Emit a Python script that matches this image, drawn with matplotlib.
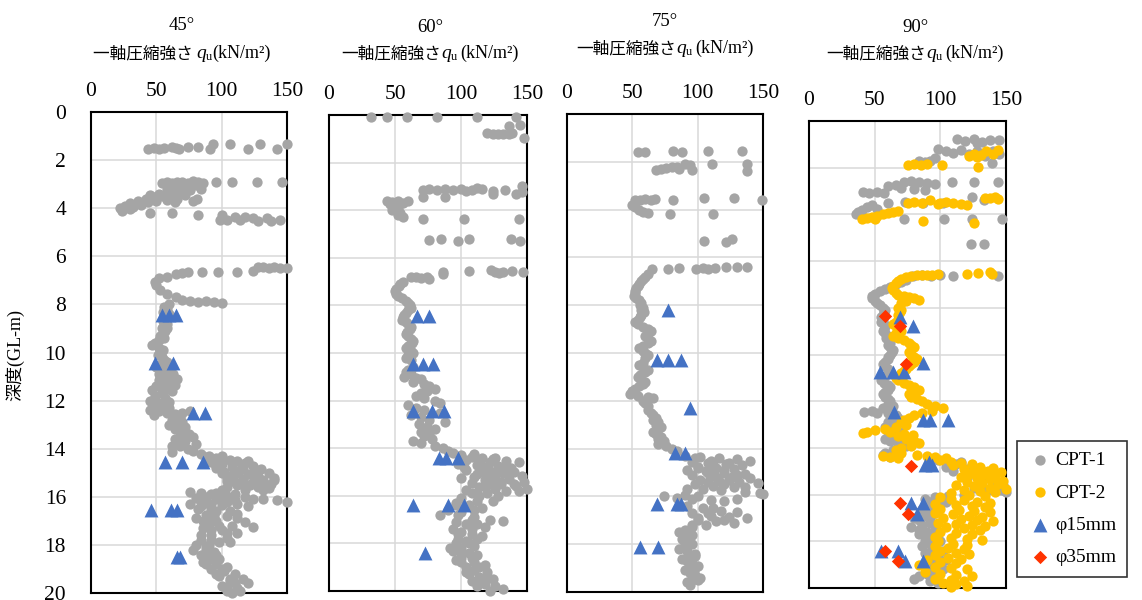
import numpy as np
import matplotlib
matplotlib.use("Agg")
import matplotlib.pyplot as plt

plt.rcParams['font.family'] = ['Liberation Serif', 'Noto Sans CJK JP']

# ---- data: (depth GL-m, qu kN/m2) ----
angles = ["45°", "60°", "75°", "90°"]
qu_label_jp = ["一軸圧縮強さ ", "一軸圧縮強さ", "一軸圧縮強さ", "一軸圧縮強さ"]
qu_sub = ["u", "u ", "u ", "u "]
qu_unit = "(kN/m²)"
x_ticks = [0, 50, 100, 150]
depth_ticks = [0, 2, 4, 6, 8, 10, 12, 14, 16, 18, 20]
series_names = ["CPT-1", "CPT-2", "φ15mm", "φ35mm"]

cpt1_45 = [
    (1.55, 44), (1.5, 48), (1.55, 52), (1.5, 56), (1.45, 62), (1.5, 65), (1.55, 67), (1.45, 74), (1.45, 82),
    (1.35, 93), (1.55, 91), (1.35, 106), (1.55, 120), (1.35, 129), (1.55, 142), (1.35, 150),
    (2.95, 54), (2.9, 58), (2.95, 62), (2.9, 66), (2.9, 70), (2.95, 74), (2.85, 78), (2.9, 82), (2.95, 86),
    (2.9, 96), (2.9, 108), (2.9, 127), (2.9, 146),
    (3.05, 80), (3.1, 75), (3.1, 70), (3.15, 64), (3.2, 58), (3.2, 84), (3.25, 76), (3.3, 68), (3.35, 60),
    (3.4, 52), (3.45, 45), (3.45, 72), (3.5, 62), (3.5, 54), (3.55, 48), (3.6, 42), (3.6, 66), (3.65, 58),
    (3.7, 50), (3.7, 36), (3.75, 44), (3.8, 30), (3.85, 38), (3.9, 26), (3.95, 32), (4.0, 22), (4.05, 30),
    (4.1, 24), (3.7, 78), (3.6, 81), (3.55, 60), (3.75, 64), (4.2, 45), (4.2, 62), (4.3, 82),
    (4.3, 100), (4.5, 99), (4.5, 104), (4.35, 110), (4.5, 114), (4.35, 118), (4.4, 124), (4.55, 128),
    (4.4, 135), (4.55, 138), (4.5, 145),
    (6.65, 85), (6.65, 97), (6.65, 112), (6.6, 124), (6.45, 128), (6.45, 132), (6.5, 136), (6.45, 140),
    (6.5, 145), (6.5, 150),
    (6.65, 74), (6.7, 70), (6.75, 65), (6.85, 58), (6.9, 52), (7.05, 49), (7.2, 50), (7.4, 53), (7.55, 58),
    (7.7, 65), (7.8, 70), (7.85, 76), (7.9, 82), (7.85, 88), (7.9, 94), (7.95, 100),
    (8.1, 56), (8.2, 58), (8.3, 55), (8.4, 60), (8.6, 57), (8.7, 55), (8.8, 58), (8.9, 56), (9.0, 54),
    (9.1, 57), (9.2, 55), (9.3, 53), (9.4, 56), (9.5, 52), (9.6, 49), (9.7, 47), (9.8, 52), (9.9, 55),
    (10.0, 53), (10.1, 51), (10.2, 54), (10.3, 56), (10.5, 53), (10.6, 56),
    (10.7, 55), (10.8, 60), (10.9, 63), (11.0, 58), (11.1, 66), (11.15, 52), (11.2, 61), (11.3, 55),
    (11.35, 64), (11.4, 50), (11.5, 58), (11.55, 47), (11.6, 62), (11.7, 54), (11.8, 49), (11.9, 57),
    (12.0, 45), (12.05, 60), (12.1, 52),
    (12.4, 45), (12.45, 52), (12.5, 58), (12.55, 64), (12.5, 70), (12.45, 76), (12.6, 48),
    (12.7, 68), (12.8, 62), (12.9, 70), (13.0, 66), (13.1, 72), (13.2, 64), (13.3, 68), (13.4, 75),
    (13.5, 70), (13.6, 64), (13.7, 72), (13.8, 80), (13.9, 68), (14.0, 74), (14.1, 78),
    (14.15, 62), (14.2, 84), (14.3, 90), (14.3, 100),
    (14.4, 96), (14.45, 106), (14.5, 112), (14.55, 92), (14.6, 118), (14.65, 100), (14.7, 124), (14.75, 108),
    (14.8, 96), (14.85, 130), (14.9, 114), (14.95, 102), (15.0, 136), (15.05, 120), (15.1, 108), (15.15, 128),
    (15.2, 140), (15.25, 116), (15.3, 132), (15.35, 104), (15.4, 124), (15.45, 138), (15.5, 112), (15.55, 130),
    (15.6, 118), (15.65, 136), (15.7, 100),
    (15.8, 76), (15.85, 84), (15.9, 92), (15.95, 104), (16.0, 118), (16.05, 80), (16.1, 96), (16.15, 110),
    (16.1, 132), (16.15, 142), (16.2, 150), (16.25, 88), (16.3, 76), (16.35, 100), (16.4, 120),
    (16.5, 82), (16.6, 96), (16.7, 112), (16.75, 88), (16.8, 104), (16.9, 80), (17.0, 96), (17.05, 118),
    (17.1, 90), (17.2, 108), (17.25, 124), (17.3, 86), (17.4, 100), (17.5, 112), (17.6, 92), (17.7, 104),
    (17.8, 84), (17.9, 98),
    (18.0, 80), (18.1, 88), (18.2, 78), (18.3, 94), (18.4, 84), (18.5, 90), (18.6, 98), (18.7, 86), (18.8, 96),
    (18.9, 104), (19.0, 92), (19.1, 102), (19.2, 110), (19.3, 98), (19.4, 116), (19.5, 106), (19.6, 120),
    (19.7, 100), (19.8, 112), (19.9, 104), (20.0, 108),
    (8.0, 60), (8.5, 58), (9.0, 58), (10.4, 58), (10.6, 50), (10.9, 52), (11.3, 62), (12.2, 54), (12.3, 60),
    (12.3, 48), (13.0, 60), (13.5, 78), (13.9, 62),
    (14.35, 88), (14.4, 100), (14.5, 120), (14.6, 108), (14.7, 96), (14.8, 116), (14.9, 126), (15.0, 100),
    (15.0, 112), (15.1, 124), (15.2, 104), (15.2, 128), (15.3, 116), (15.3, 140), (15.4, 110), (15.5, 122),
    (15.5, 136), (15.6, 104), (15.6, 128), (15.7, 118), (15.7, 132),
    (15.85, 96), (15.9, 110), (16.0, 88), (16.0, 100), (16.1, 124), (16.2, 84), (16.2, 104), (16.3, 112),
    (16.3, 92), (16.4, 84),
    (16.5, 92), (16.6, 106), (16.8, 94), (16.9, 112), (17.0, 86), (17.2, 98), (17.4, 92), (17.5, 104),
    (17.6, 84), (17.8, 92), (17.9, 106), (18.0, 90), (18.2, 88), (18.4, 96), (18.6, 90), (18.8, 88),
    (19.0, 100), (19.2, 96), (19.4, 106), (19.6, 110), (19.8, 104), (19.9, 114),
]
tri_45 = [(8.45, 54), (8.45, 60), (8.45, 65), (10.45, 49), (10.45, 63), (12.5, 78), (12.5, 87),
          (14.55, 57), (14.55, 70), (14.55, 86), (16.55, 46), (16.55, 61), (16.55, 66), (18.5, 66), (18.5, 68)]

cpt1_60 = [
    (0.1, 32), (0.1, 44), (0.1, 59), (0.1, 82), (0.1, 112), (0.1, 142), (0.45, 136), (0.4, 145),
    (0.75, 120), (0.8, 124), (0.8, 128), (0.8, 132), (0.8, 136), (0.75, 139), (0.95, 148),
    (3.0, 146), (3.15, 71), (3.1, 76), (3.15, 82), (3.1, 88), (3.15, 94), (3.1, 100), (3.2, 104),
    (3.15, 108), (3.05, 112), (3.1, 116), (3.2, 124), (3.15, 133), (3.3, 142), (3.25, 146), (3.3, 124),
    (3.45, 71), (3.45, 88),
    (3.6, 44), (3.65, 48), (3.6, 52), (3.7, 56), (3.6, 60), (3.75, 46), (3.8, 50), (3.9, 52), (4.0, 48),
    (4.1, 54), (4.2, 52), (4.3, 56),
    (4.35, 71), (4.35, 102), (4.35, 144),
    (5.27, 76), (5.2, 85), (5.3, 98), (5.2, 106), (5.2, 138), (5.3, 145),
    (6.6, 86), (6.55, 106), (6.5, 123), (6.6, 126), (6.65, 129), (6.6, 132), (6.55, 139), (6.6, 147), (6.7, 86),
    (6.8, 62), (6.8, 66), (6.85, 70), (6.8, 74), (6.9, 76),
    (7.0, 56), (7.1, 54), (7.2, 53), (7.3, 51), (7.4, 50), (7.5, 51), (7.6, 52), (7.7, 55), (7.8, 58),
    (7.9, 60), (8.0, 61), (8.1, 62), (8.2, 60), (8.3, 58), (8.4, 57), (8.5, 56), (8.6, 55), (8.7, 58),
    (8.8, 60), (8.9, 62), (9.0, 61), (9.1, 59), (9.2, 58), (9.3, 60), (9.4, 62), (9.5, 64), (9.6, 63),
    (9.7, 60),
    (9.8, 58), (9.9, 62), (10.0, 64), (10.1, 60), (10.2, 58), (10.3, 62), (10.6, 64), (10.7, 60), (10.8, 58),
    (10.9, 62), (11.0, 57), (11.05, 66), (11.1, 70), (11.2, 64), (11.3, 72), (11.4, 76), (11.5, 80),
    (11.6, 74), (11.7, 70), (11.8, 66), (11.9, 72), (12.0, 80), (12.1, 84),
    (12.2, 60), (12.3, 66), (12.4, 72), (12.5, 84), (12.6, 62), (12.7, 70), (12.8, 76), (12.9, 88),
    (13.0, 68), (13.1, 74), (13.2, 80), (13.3, 70), (13.4, 76), (13.5, 72), (13.6, 78), (13.7, 64),
    (13.8, 70), (13.9, 80), (14.0, 86), (14.1, 90),
    (14.2, 94), (14.3, 100), (14.35, 108), (14.4, 116), (14.45, 124), (14.5, 104), (14.55, 134), (14.6, 144),
    (14.65, 98), (14.7, 112), (14.75, 128), (14.8, 118), (14.85, 138), (14.9, 104), (14.95, 122), (15.0, 140),
    (15.05, 132), (15.1, 112), (15.15, 146), (15.2, 126), (15.25, 100), (15.3, 136), (15.35, 118),
    (15.4, 148), (15.45, 108), (15.5, 130), (15.55, 124), (15.6, 142), (15.65, 114), (15.7, 150),
    (15.75, 104), (15.8, 134), (15.9, 120), (16.0, 128),
    (16.1, 100), (16.2, 112), (16.3, 96), (16.4, 106), (16.5, 116), (16.6, 90), (16.7, 100), (16.8, 84),
    (16.9, 110), (17.0, 122), (17.05, 132), (17.1, 96), (17.2, 104), (17.3, 118), (17.4, 94),
    (17.5, 100), (17.6, 108), (17.7, 116), (17.8, 98), (17.9, 104), (18.0, 96), (18.1, 110), (18.2, 100),
    (18.3, 94), (18.4, 106), (18.5, 112), (18.6, 100), (18.7, 96), (18.8, 110), (18.9, 118), (19.0, 104),
    (19.1, 110), (19.2, 120), (19.3, 106), (19.4, 114), (19.5, 124), (19.6, 108), (19.7, 118), (19.8, 126),
    (19.9, 132), (20.0, 122),
    (14.25, 110), (14.4, 126), (14.5, 114), (14.6, 122), (14.7, 134), (14.8, 102), (14.9, 128), (15.0, 116),
    (15.1, 136), (15.2, 110), (15.3, 120), (15.4, 130), (15.5, 140), (15.6, 118), (15.7, 126), (15.8, 144),
    (15.9, 108), (16.0, 114),
    (16.2, 124), (16.4, 96), (16.6, 110), (16.8, 98), (17.0, 108), (17.2, 112), (17.4, 108), (17.6, 98),
    (17.8, 112), (18.0, 106), (18.2, 92), (18.4, 100), (18.6, 108), (18.8, 100), (19.0, 114), (19.2, 104),
    (19.4, 120), (19.6, 116), (19.8, 112),
]
tri_60 = [(8.45, 67), (8.45, 76), (10.45, 64), (10.45, 71), (10.45, 79), (12.45, 64), (12.45, 78),
          (12.45, 87), (14.4, 83), (14.4, 89), (14.4, 98), (16.4, 64), (16.4, 90), (16.4, 102), (18.4, 73)]

cpt1_75 = [
    (1.6, 54), (1.6, 60), (1.55, 81), (1.6, 88), (1.55, 108), (1.55, 134),
    (2.1, 111), (2.1, 138), (2.4, 138),
    (2.1, 90), (2.15, 94), (2.2, 84), (2.2, 80), (2.25, 76), (2.3, 72), (2.35, 68), (2.3, 86), (2.35, 96),
    (3.6, 52), (3.6, 56), (3.55, 60), (3.6, 64), (3.55, 67), (3.6, 81), (3.5, 105), (3.5, 128), (3.6, 149),
    (3.8, 50), (3.9, 52), (4.0, 55), (4.1, 58), (4.15, 62), (4.2, 79), (4.2, 112),
    (5.3, 105), (5.35, 122), (5.25, 126),
    (6.5, 65), (6.5, 77), (6.45, 86), (6.5, 99), (6.45, 104), (6.5, 108), (6.45, 113), (6.4, 122),
    (6.4, 130), (6.4, 138),
    (6.7, 62), (6.8, 60), (6.9, 58), (7.0, 57), (7.1, 55), (7.2, 54), (7.3, 53), (7.4, 52), (7.5, 52),
    (7.6, 51), (7.7, 53), (7.8, 55), (7.9, 57), (8.0, 56), (8.1, 58), (8.2, 57), (8.3, 59), (8.4, 57),
    (8.5, 56), (8.6, 54), (8.7, 52), (8.8, 54), (8.9, 58), (9.0, 62), (9.1, 64), (9.2, 62), (9.3, 60),
    (9.4, 62), (9.5, 64), (9.6, 62), (9.7, 58), (9.8, 55), (9.9, 58), (10.0, 60), (10.1, 62), (10.2, 60),
    (10.4, 58), (10.5, 55), (10.6, 58), (10.7, 62), (10.8, 60), (10.9, 56), (11.0, 54), (11.1, 57),
    (11.2, 60), (11.3, 58), (11.4, 55), (11.5, 52), (11.6, 50), (11.7, 48), (11.8, 54), (11.85, 62),
    (11.9, 66), (12.0, 58), (12.1, 60), (12.2, 62),
    (12.4, 62), (12.5, 64), (12.6, 66), (12.7, 68), (12.8, 66), (12.9, 70), (13.0, 68), (13.1, 72),
    (13.2, 70), (13.3, 66), (13.4, 68), (13.5, 72), (13.6, 70), (13.7, 74), (13.8, 70), (13.9, 76),
    (14.0, 80), (14.1, 84),
    (14.3, 90), (14.35, 102), (14.4, 116), (14.45, 130), (14.5, 140), (14.55, 96), (14.6, 108), (14.65, 122),
    (14.7, 134), (14.75, 100), (14.8, 114), (14.85, 128), (14.9, 92), (14.95, 106), (15.0, 120),
    (15.05, 136), (15.1, 96), (15.15, 110), (15.2, 126), (15.25, 140), (15.3, 102), (15.35, 116),
    (15.4, 132), (15.45, 146), (15.5, 98), (15.55, 112), (15.6, 128), (15.7, 104), (15.75, 118),
    (15.8, 136), (15.85, 148), (15.9, 150), (15.95, 90), (16.0, 74), (16.05, 84), (16.1, 96), (16.15, 110),
    (16.4, 92), (16.5, 104), (16.6, 118), (16.65, 130), (16.7, 96), (16.8, 110), (16.85, 124), (16.9, 138),
    (17.0, 100), (17.05, 114), (17.1, 128), (17.2, 106), (17.3, 96), (17.4, 90),
    (17.5, 86), (17.6, 90), (17.7, 94), (17.8, 88), (17.9, 92), (18.0, 96), (18.1, 90), (18.2, 86),
    (18.3, 92), (18.4, 98), (18.5, 94), (18.6, 88), (18.7, 92), (18.8, 96), (18.9, 100), (19.0, 94),
    (19.1, 90), (19.2, 94), (19.3, 98), (19.4, 102), (19.5, 96), (19.6, 92), (19.7, 94),
    (14.4, 98), (14.5, 110), (14.6, 124), (14.7, 112), (14.8, 100), (14.9, 120), (15.0, 108), (15.1, 130),
    (15.2, 114), (15.3, 124), (15.4, 108), (15.5, 120), (15.6, 136), (15.7, 92), (16.0, 100), (16.1, 130),
    (16.2, 120), (16.5, 112), (16.7, 108), (16.9, 100), (17.0, 120), (17.2, 96), (17.6, 96), (18.0, 90),
    (18.5, 98), (19.0, 98), (19.5, 100),
]
tri_75 = [(8.2, 77), (10.3, 69), (10.3, 77), (10.3, 87), (12.3, 94), (14.2, 83), (14.2, 90),
          (16.3, 69), (16.3, 84), (16.3, 87), (18.1, 56), (18.1, 70)]

cpt1_90 = [
    (0.75, 113), (0.85, 119), (0.75, 126), (0.9, 132), (0.8, 138), (0.8, 145), (0.95, 128),
    (1.2, 98), (1.3, 104), (1.35, 110), (1.25, 116), (1.4, 122), (1.3, 128), (1.5, 134), (1.3, 140),
    (1.4, 145), (1.7, 84), (1.75, 88), (1.7, 92), (1.6, 96), (1.8, 139),
    (2.6, 72), (2.55, 78), (2.6, 84), (2.65, 90), (2.7, 96), (2.75, 66), (2.8, 60), (2.85, 70), (2.9, 80),
    (2.95, 88), (2.6, 109), (2.6, 126), (2.6, 144),
    (3.05, 41), (3.1, 46), (3.05, 52), (3.1, 57),
    (3.26, 124), (3.37, 133), (3.5, 102), (3.5, 87), (3.45, 73), (3.5, 60),
    (3.6, 48), (3.7, 44), (3.8, 40), (3.9, 37), (4.0, 36), (4.1, 40), (3.75, 52),
    (4.2, 72), (4.2, 103), (4.2, 124), (4.2, 147),
    (5.25, 123), (5.25, 133),
    (6.65, 79), (6.6, 86), (6.65, 93), (6.6, 100), (6.65, 110), (6.65, 144),
    (6.8, 74), (6.9, 70), (7.0, 66), (7.1, 62), (7.2, 58), (7.3, 54), (7.4, 50), (7.5, 48), (7.6, 48),
    (7.7, 50), (7.8, 52), (7.9, 54), (8.0, 56), (8.1, 58),
    (8.2, 57), (8.3, 56), (8.4, 55), (8.5, 56), (8.6, 55), (8.7, 57), (8.8, 58), (8.9, 57), (9.0, 56),
    (9.1, 58), (9.2, 60), (9.3, 59), (9.4, 61), (9.5, 62), (9.6, 60), (9.7, 62), (9.8, 64), (9.9, 63),
    (10.0, 62), (10.1, 60),
    (10.2, 60), (10.3, 58), (10.4, 56), (10.5, 58), (10.6, 60), (10.7, 62), (10.8, 60), (10.9, 58),
    (11.0, 56), (11.1, 55), (11.2, 57), (11.3, 60), (11.4, 62), (11.5, 60), (11.6, 58), (11.7, 56),
    (11.8, 58), (11.9, 60), (12.0, 62), (12.1, 60), (12.2, 64), (12.3, 56), (12.4, 48), (12.45, 42),
    (12.5, 52), (12.5, 60), (12.6, 66), (12.7, 68), (12.8, 64), (12.9, 60), (13.0, 62), (13.1, 58),
    (13.2, 64), (13.3, 70), (13.4, 66), (13.5, 60), (13.6, 58), (13.7, 62), (13.8, 68), (13.9, 74),
    (14.0, 70), (14.1, 64), (14.2, 58), (14.3, 56), (14.4, 62),
    (14.5, 98), (14.6, 104), (14.7, 112), (14.8, 104), (14.9, 120), (15.0, 110), (15.1, 128), (15.2, 136),
    (15.3, 120), (15.4, 132), (15.5, 142), (15.6, 148), (15.65, 140), (15.7, 126), (15.8, 146),
    (15.9, 150), (16.0, 118), (16.05, 106),
    (16.1, 96), (16.2, 88), (16.3, 92), (16.4, 100), (16.5, 94), (16.6, 86), (16.7, 90), (16.8, 96),
    (16.9, 88), (17.0, 80), (17.1, 84), (17.2, 92), (17.3, 86), (17.4, 78), (17.5, 84), (17.6, 90),
    (17.7, 84), (17.8, 88), (17.9, 94), (18.0, 100), (18.1, 92), (18.2, 86), (18.3, 94), (18.4, 102),
    (18.5, 96), (18.6, 90), (18.7, 98), (18.8, 104), (18.9, 96), (19.0, 88), (19.1, 94), (19.2, 102),
    (19.3, 96), (19.4, 90), (19.5, 84), (19.6, 80), (19.7, 92), (19.8, 98),
    (14.6, 116), (14.8, 124), (15.0, 132), (15.2, 120), (15.4, 140), (15.6, 130), (15.8, 136), (16.3, 104),
    (16.6, 96), (17.0, 92), (17.5, 96), (18.0, 88), (18.5, 88), (19.0, 96), (19.5, 96),
]
cpt2_90 = [
    (1.5, 122), (1.4, 126), (1.45, 131), (1.3, 135), (1.4, 140), (1.25, 144), (1.55, 128),
    (1.9, 75), (1.85, 80), (1.9, 85), (1.85, 90), (1.9, 101), (1.95, 129),
    (3.5, 75), (3.45, 80), (3.5, 86), (3.4, 92), (3.55, 98), (3.45, 104), (3.5, 110), (3.55, 116),
    (3.6, 120), (3.5, 100), (3.3, 134), (3.3, 138), (3.25, 142), (3.35, 144),
    (4.2, 40), (4.15, 44), (4.1, 48), (4.05, 52), (4.0, 56), (3.95, 60), (3.9, 64), (3.85, 68), (4.2, 50),
    (4.3, 87), (4.37, 126),
    (6.75, 70), (6.7, 74), (6.65, 78), (6.6, 82), (6.6, 86), (6.6, 90), (6.6, 94), (6.55, 98),
    (6.55, 120), (6.5, 129), (6.45, 138), (6.55, 139),
    (6.85, 68), (6.95, 66), (7.05, 64), (7.15, 63), (7.25, 64), (7.35, 66), (7.45, 68),
    (7.5, 72), (7.55, 76), (7.6, 80), (7.65, 84), (7.7, 74), (7.8, 70),
    (8.0, 68), (8.1, 70), (8.2, 69), (8.3, 68),
    (8.6, 66), (8.7, 64), (8.8, 66), (8.9, 68), (9.0, 70), (9.1, 66), (9.2, 64), (9.3, 68), (9.4, 72),
    (9.5, 76), (9.6, 78), (9.7, 80), (9.8, 78), (9.9, 76), (10.0, 78), (10.1, 80), (10.2, 82), (10.3, 80),
    (10.4, 78), (10.5, 76), (10.6, 74), (10.7, 72), (10.8, 70), (10.9, 68), (11.0, 66), (11.1, 68),
    (11.2, 72), (11.3, 76), (11.4, 80), (11.5, 84), (11.6, 80), (11.7, 76), (11.8, 78), (11.9, 82),
    (12.0, 86), (12.1, 90), (12.2, 96), (12.3, 102), (12.4, 94), (12.5, 86), (12.6, 80), (12.7, 76),
    (12.8, 72), (12.9, 70), (13.0, 74), (13.1, 66), (13.2, 58), (13.25, 50), (13.3, 44), (13.35, 41),
    (13.3, 62), (13.4, 72), (13.45, 79), (13.5, 68), (13.6, 74), (13.7, 80), (13.8, 84), (13.9, 78),
    (14.0, 70), (14.1, 66), (14.2, 70), (14.3, 82), (14.35, 90), (14.4, 96), (14.45, 104), (14.5, 100),
    (14.35, 56), (14.4, 62), (14.45, 68),
    (14.6, 108), (14.65, 116), (14.7, 124), (14.75, 110), (14.8, 130), (14.85, 140), (14.9, 118),
    (14.95, 126), (15.0, 136), (15.05, 146), (15.1, 122), (15.15, 132), (15.2, 142), (15.25, 116),
    (15.3, 128), (15.35, 138), (15.4, 148), (15.45, 120), (15.5, 132), (15.55, 144), (15.6, 112),
    (15.65, 126), (15.7, 138), (15.75, 150), (15.8, 118), (15.85, 130), (15.9, 142), (15.95, 108),
    (16.0, 122), (16.05, 134), (16.1, 100),
    (16.2, 108), (16.25, 118), (16.3, 128), (16.35, 138), (16.4, 96), (16.45, 112), (16.5, 124),
    (16.55, 134), (16.6, 100), (16.65, 114), (16.7, 126), (16.75, 138), (16.8, 96), (16.85, 110),
    (16.9, 122), (16.95, 132), (17.0, 102), (17.05, 116), (17.1, 128), (17.15, 140), (17.2, 98),
    (17.25, 112), (17.3, 124), (17.35, 134), (17.4, 104), (17.45, 118), (17.5, 130), (17.6, 100),
    (17.65, 112), (17.7, 124), (17.8, 96), (17.85, 108), (17.9, 120), (17.95, 132), (18.0, 98),
    (18.1, 110), (18.15, 120), (18.2, 96), (18.3, 106), (18.35, 118), (18.4, 100), (18.5, 112),
    (18.55, 122), (18.6, 96), (18.7, 106), (18.75, 116), (18.8, 90), (18.9, 100), (18.95, 112),
    (19.0, 84), (19.1, 96), (19.15, 108), (19.2, 120), (19.3, 88), (19.4, 100), (19.45, 112), (19.5, 124),
    (19.6, 96), (19.65, 108), (19.7, 118), (19.8, 102), (19.85, 112), (19.9, 120), (19.95, 108),
]
tri_90 = [(8.4, 69), (8.8, 79), (10.38, 87), (10.77, 54), (10.77, 64), (10.77, 72), (12.45, 65),
          (12.8, 87), (12.8, 92), (12.8, 106), (14.6, 91), (14.72, 88.5), (14.72, 93.5), (16.38, 78),
          (16.38, 87), (16.84, 82), (18.4, 55), (18.4, 68), (18.85, 73), (18.85, 87)]
dia_90 = [(8.35, 58), (8.8, 69), (10.41, 74), (14.78, 78), (16.38, 69), (16.81, 75), (18.4, 58), (18.85, 68)]

# ---- layout (pixels of the 1142x600 canvas) ----
W, H = 1142, 600
boxes = [(91, 112, 287, 593), (329, 115, 527, 591), (567, 114, 763, 592), (809, 121, 1006, 588)]
title_pos = [(182, 25, 52), (430, 27, 52), (665, 22, 47), (915, 27, 52)]

GRAY, GOLD, BLUE, RED = '#A5A5A5', '#FFC000', '#4472C4', '#FF3300'

panels = [
    dict(cpt1=cpt1_45, cpt2=None, tri=tri_45, dia=None),
    dict(cpt1=cpt1_60, cpt2=None, tri=tri_60, dia=None),
    dict(cpt1=cpt1_75, cpt2=None, tri=tri_75, dia=None),
    dict(cpt1=cpt1_90, cpt2=cpt2_90, tri=tri_90, dia=dia_90),
]


def xy(pairs):
    a = np.array(pairs, dtype=float)
    return a[:, 1], a[:, 0]


def rich_line(fig, renderer, cx, cy, pieces):
    """Lay text pieces side by side (pixel coords), centred on cx, baseline near cy."""
    base = cy + 6
    objs = []
    for s, dy, kw in pieces:
        t = fig.text(0, 0, s, va='baseline', ha='left', **kw)
        objs.append((t, dy))
    widths = [t.get_window_extent(renderer).width for t, _ in objs]
    x = cx - sum(widths) / 2
    for (t, dy), w in zip(objs, widths):
        t.set_position((x / W, 1 - (base + dy) / H))
        x += w


fig = plt.figure(figsize=(W / 100, H / 100), dpi=100)
renderer = fig.canvas.get_renderer()
handles = {}
for i, (p, (l, t, r, b)) in enumerate(zip(panels, boxes)):
    ax = fig.add_axes([l / W, 1 - b / H, (r - l) / W, (b - t) / H])
    ax.set_xlim(0, 150)
    ax.set_ylim(20, 0)
    ax.set_xticks(x_ticks)
    ax.set_yticks(depth_ticks)
    ax.xaxis.tick_top()
    ax.tick_params(axis='x', length=0, pad=8, labelsize=15.5)
    ax.tick_params(axis='y', length=0, pad=18, labelsize=15.5, labelleft=(i == 0))
    ax.grid(True, color='#D9D9D9', lw=1.1)
    ax.set_axisbelow(True)
    for s in ax.spines.values():
        s.set_linewidth(1.5)
        s.set_color('black')

    x, y = xy(p['cpt1'])
    handles['CPT-1'] = ax.scatter(x, y, s=55, c=GRAY, linewidths=0, clip_on=False, zorder=3)
    if p['cpt2']:
        x, y = xy(p['cpt2'])
        handles['CPT-2'] = ax.scatter(x, y, s=55, c=GOLD, linewidths=0, clip_on=False, zorder=4)
    x, y = xy(p['tri'])
    handles['φ15mm'] = ax.scatter(x, y, s=100, marker='^', c=BLUE, linewidths=0, clip_on=False, zorder=5)
    if p['dia']:
        x, y = xy(p['dia'])
        handles['φ35mm'] = ax.scatter(x, y, s=46, marker='D', c=RED, linewidths=0, clip_on=False, zorder=6)

    cx, y1, y2 = title_pos[i]
    fig.text(cx / W, 1 - y1 / H, angles[i], ha='center', va='center', fontsize=13.5)
    rich_line(fig, renderer, cx, y2, [
        (qu_label_jp[i], 0, dict(family='Noto Sans CJK JP', fontsize=12)),
        ("q", 0, dict(family='Liberation Serif', style='italic', fontsize=14)),
        (qu_sub[i], 2, dict(family='Liberation Serif', fontsize=9)),
        (qu_unit, 0, dict(family='Liberation Serif', fontsize=13)),
    ])

fig.text(15 / W, 1 - 355 / H, "深度(GL-m)", rotation=90, ha='center', va='center', fontsize=13)

leg = fig.legend([handles[n] for n in series_names], series_names, loc='upper left',
                 bbox_to_anchor=(1017 / W, 1 - 441 / H), frameon=True, fancybox=False,
                 edgecolor='black', fontsize=14, labelspacing=0.75, handletextpad=0.1,
                 borderpad=0.55, handlelength=1.3, borderaxespad=0)
leg.get_frame().set_linewidth(1.2)

fig.savefig("out.png", dpi=100)
